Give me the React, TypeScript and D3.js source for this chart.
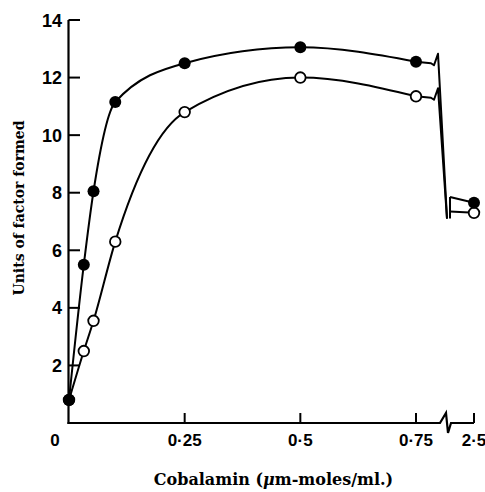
import React from 'react';
import * as d3 from 'd3';

// cobalamin concentration (µm-moles/ml.) on the continuous part of the axis
const doses = [0, 0.032, 0.053, 0.1, 0.25, 0.5, 0.75];
// filled circles
const filledUnits = [0.8, 5.5, 8.05, 11.15, 12.5, 13.05, 12.55];
// open circles
const openUnits = [0.8, 2.5, 3.55, 6.3, 10.8, 12.0, 11.35];
// point after the axis break
const highDose = 2.5;
const filledHigh = 7.65;
const openHigh = 7.3;

const yTicks = [2, 4, 6, 8, 10, 12, 14];
const xTicks = [0.25, 0.5, 0.75, 2.5];
const xTickLabels = ['0·25', '0·5', '0·75', '2·5'];

const W = 485;
const H = 492;

const App = () => {
    const x = d3.scaleLinear().domain([0, 0.75, 2.5]).range([69, 416, 474]);
    const y = d3.scaleLinear().domain([0, 14]).range([423, 20]);

    const line = d3
        .line<number>()
        .x((d, i) => x(doses[i]))
        .y(d => y(d))
        .curve(d3.curveMonotoneX);

    const x0 = x(0.75);
    const bottom = y(7.1);
    const breakPath = (v: number) => {
        const y0 = y(v);
        return (
            'M' + x0 + ',' + y0 +
            'L' + (x0 + 15) + ',' + (y0 + 1.5) +
            'L' + (x0 + 18) + ',' + (y0 + 3.5) +
            'L' + (x0 + 22) + ',' + (y0 - 8) +
            'L' + (x0 + 31) + ',' + bottom
        );
    };
    const bx = x0 + 34;

    const axisY = y(0);
    const tickFont = "'Liberation Sans', Arial, sans-serif";
    const titleFont = "'DejaVu Serif', serif";

    return (
        <svg
            width={W}
            height={H}
            style={{ position: 'absolute', left: 0, top: 0, background: '#fff' }}
        >
            {/* y axis */}
            <line x1={68.5} x2={68.5} y1={y(14)} y2={axisY + 1} stroke='#000' strokeWidth={2.2} />
            {yTicks.map(t => (
                <g key={t}>
                    <line x1={68.5} x2={80} y1={y(t)} y2={y(t)} stroke='#000' strokeWidth={2} />
                    <text
                        x={62}
                        y={y(t) + 6.5}
                        textAnchor='end'
                        fontFamily={tickFont}
                        fontWeight='bold'
                        fontSize={18}
                    >
                        {t}
                    </text>
                </g>
            ))}

            {/* x axis with break */}
            <path
                d={
                    'M67.5,' + axisY +
                    'L' + (x0 + 24) + ',' + axisY +
                    'L' + (x0 + 30) + ',' + (axisY - 10) +
                    'L' + (x0 + 32) + ',' + (axisY + 10) +
                    'L' + (x0 + 35) + ',' + axisY +
                    'L' + x(highDose) + ',' + axisY
                }
                fill='none'
                stroke='#000'
                strokeWidth={2.2}
            />
            {xTicks.map((t, i) => (
                <g key={t}>
                    <line x1={x(t)} x2={x(t)} y1={axisY} y2={axisY - 10} stroke='#000' strokeWidth={2} />
                    <text
                        x={x(t)}
                        y={446}
                        textAnchor='middle'
                        fontFamily={tickFont}
                        fontWeight='bold'
                        fontSize={17}
                    >
                        {xTickLabels[i]}
                    </text>
                </g>
            ))}
            <text
                x={x(0) - 14}
                y={446}
                textAnchor='middle'
                fontFamily={tickFont}
                fontWeight='bold'
                fontSize={17}
            >
                0
            </text>

            {/* curves */}
            <path d={line(openUnits) || ''} fill='none' stroke='#000' strokeWidth={2} />
            <path d={line(filledUnits) || ''} fill='none' stroke='#000' strokeWidth={2} />
            <path d={breakPath(openUnits[6])} fill='none' stroke='#000' strokeWidth={2} strokeLinejoin='round' />
            <path d={breakPath(filledUnits[6])} fill='none' stroke='#000' strokeWidth={2} strokeLinejoin='round' />

            {/* segment after the break */}
            <line x1={bx} x2={bx} y1={y(filledHigh + 0.2)} y2={bottom} stroke='#000' strokeWidth={2} />
            <line x1={bx} x2={x(highDose)} y1={y(filledHigh + 0.2)} y2={y(filledHigh)} stroke='#000' strokeWidth={2} />
            <line x1={bx} x2={x(highDose)} y1={y(openHigh + 0.05)} y2={y(openHigh)} stroke='#000' strokeWidth={2} />

            {/* markers */}
            {openUnits.map((v, i) => (
                <circle key={'o' + i} cx={x(doses[i])} cy={y(v)} r={5.3} fill='#fff' stroke='#000' strokeWidth={1.8} />
            ))}
            <circle cx={x(highDose)} cy={y(openHigh)} r={5.3} fill='#fff' stroke='#000' strokeWidth={1.8} />
            {filledUnits.map((v, i) => (
                <circle key={'f' + i} cx={x(doses[i])} cy={y(v)} r={6} fill='#000' />
            ))}
            <circle cx={x(highDose)} cy={y(filledHigh)} r={6} fill='#000' />

            {/* titles */}
            <text
                transform='translate(24,208) rotate(-90)'
                textAnchor='middle'
                fontFamily={titleFont}
                fontWeight='bold'
                fontSize={14}
            >
                Units of factor formed
            </text>
            <text
                x={273.5}
                y={485}
                textAnchor='middle'
                fontFamily={titleFont}
                fontWeight='bold'
                fontSize={16}
            >
                Cobalamin (<tspan fontStyle='italic'>μ</tspan>m-moles/ml.)
            </text>
        </svg>
    );
};

export default App;
